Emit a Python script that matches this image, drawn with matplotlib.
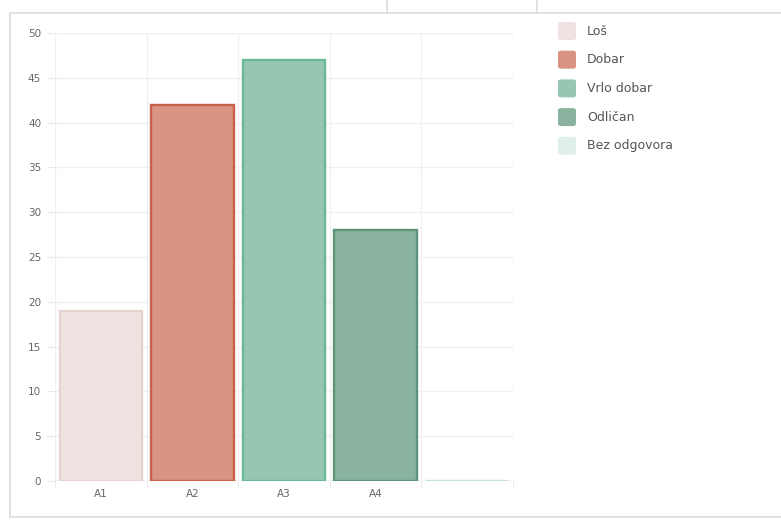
import matplotlib.pyplot as plt
from matplotlib.lines import Line2D
from matplotlib.patches import FancyBboxPatch
import numpy as np

categories = ["A1", "A2", "A3", "A4", ""]
values = [19, 42, 47, 28, 0]
legend_labels = ["Loš", "Dobar", "Vrlo dobar", "Odličan", "Bez odgovora"]
fill_colors = ["#efe3e1", "#d99483", "#96c7b1", "#8ab39f", "#e0efe9"]
edge_colors = ["#e6d3cf", "#c8614b", "#6cb894", "#5e947b", "#c5e0d5"]

fig = plt.figure(figsize=(7.81, 5.22), dpi=100)
W, H = 781, 522

# page frame lines
line_kw = dict(color="#dddddd", linewidth=1.2, transform=fig.transFigure)
fig.add_artist(Line2D([10 / W, 1], [1 - 13 / H] * 2, **line_kw))
fig.add_artist(Line2D([10 / W, 10 / W], [1 - 13 / H, 1 - 517 / H], **line_kw))
fig.add_artist(Line2D([10 / W, 1], [1 - 517 / H] * 2, **line_kw))
fig.add_artist(Line2D([387 / W] * 2, [1, 1 - 13 / H], **line_kw))
fig.add_artist(Line2D([537 / W] * 2, [1, 1 - 13 / H], **line_kw))

ax = fig.add_axes([55 / W, 1 - 481 / H, 458 / W, 448 / H])
xpos = np.arange(len(categories))
ax.bar(xpos, values, width=0.9, color=fill_colors, edgecolor=edge_colors, linewidth=1.7, zorder=3)
ax.set_xlim(-0.5, len(categories) - 0.5)
ax.set_ylim(0, 50)
ax.set_yticks(range(0, 51, 5))
ax.set_xticks(xpos, categories)
ax.set_xticks(np.arange(-0.5, len(categories), 1), minor=True)
ax.grid(True, axis="y", color="#f0f0f0", linewidth=1, zorder=0)
ax.grid(True, axis="x", which="minor", color="#f0f0f0", linewidth=1, zorder=0)
ax.tick_params(axis="x", which="major", length=0, labelsize=7.5, labelcolor="#666666", pad=6)
ax.tick_params(axis="x", which="minor", length=5, color="#e8e8e8")
ax.tick_params(axis="y", length=6, color="#e8e8e8", labelsize=7.5, labelcolor="#666666", pad=4)
for s in ax.spines.values():
    s.set_visible(False)
ax.axhline(0, color="#dddddd", linewidth=1, zorder=2)

# legend on the right
for i, (lab, fc) in enumerate(zip(legend_labels, fill_colors)):
    yc = 31 + i * 28.7
    box = FancyBboxPatch((558 / W, 1 - (yc + 9) / H), 18 / W, 18 / H,
                         boxstyle="round,pad=0,rounding_size=0.004",
                         transform=fig.transFigure, facecolor=fc, edgecolor="none")
    fig.add_artist(box)
    fig.text(587 / W, 1 - yc / H, lab, fontsize=9, color="#555555", va="center", ha="left")

fig.savefig("out.png", dpi=100)
